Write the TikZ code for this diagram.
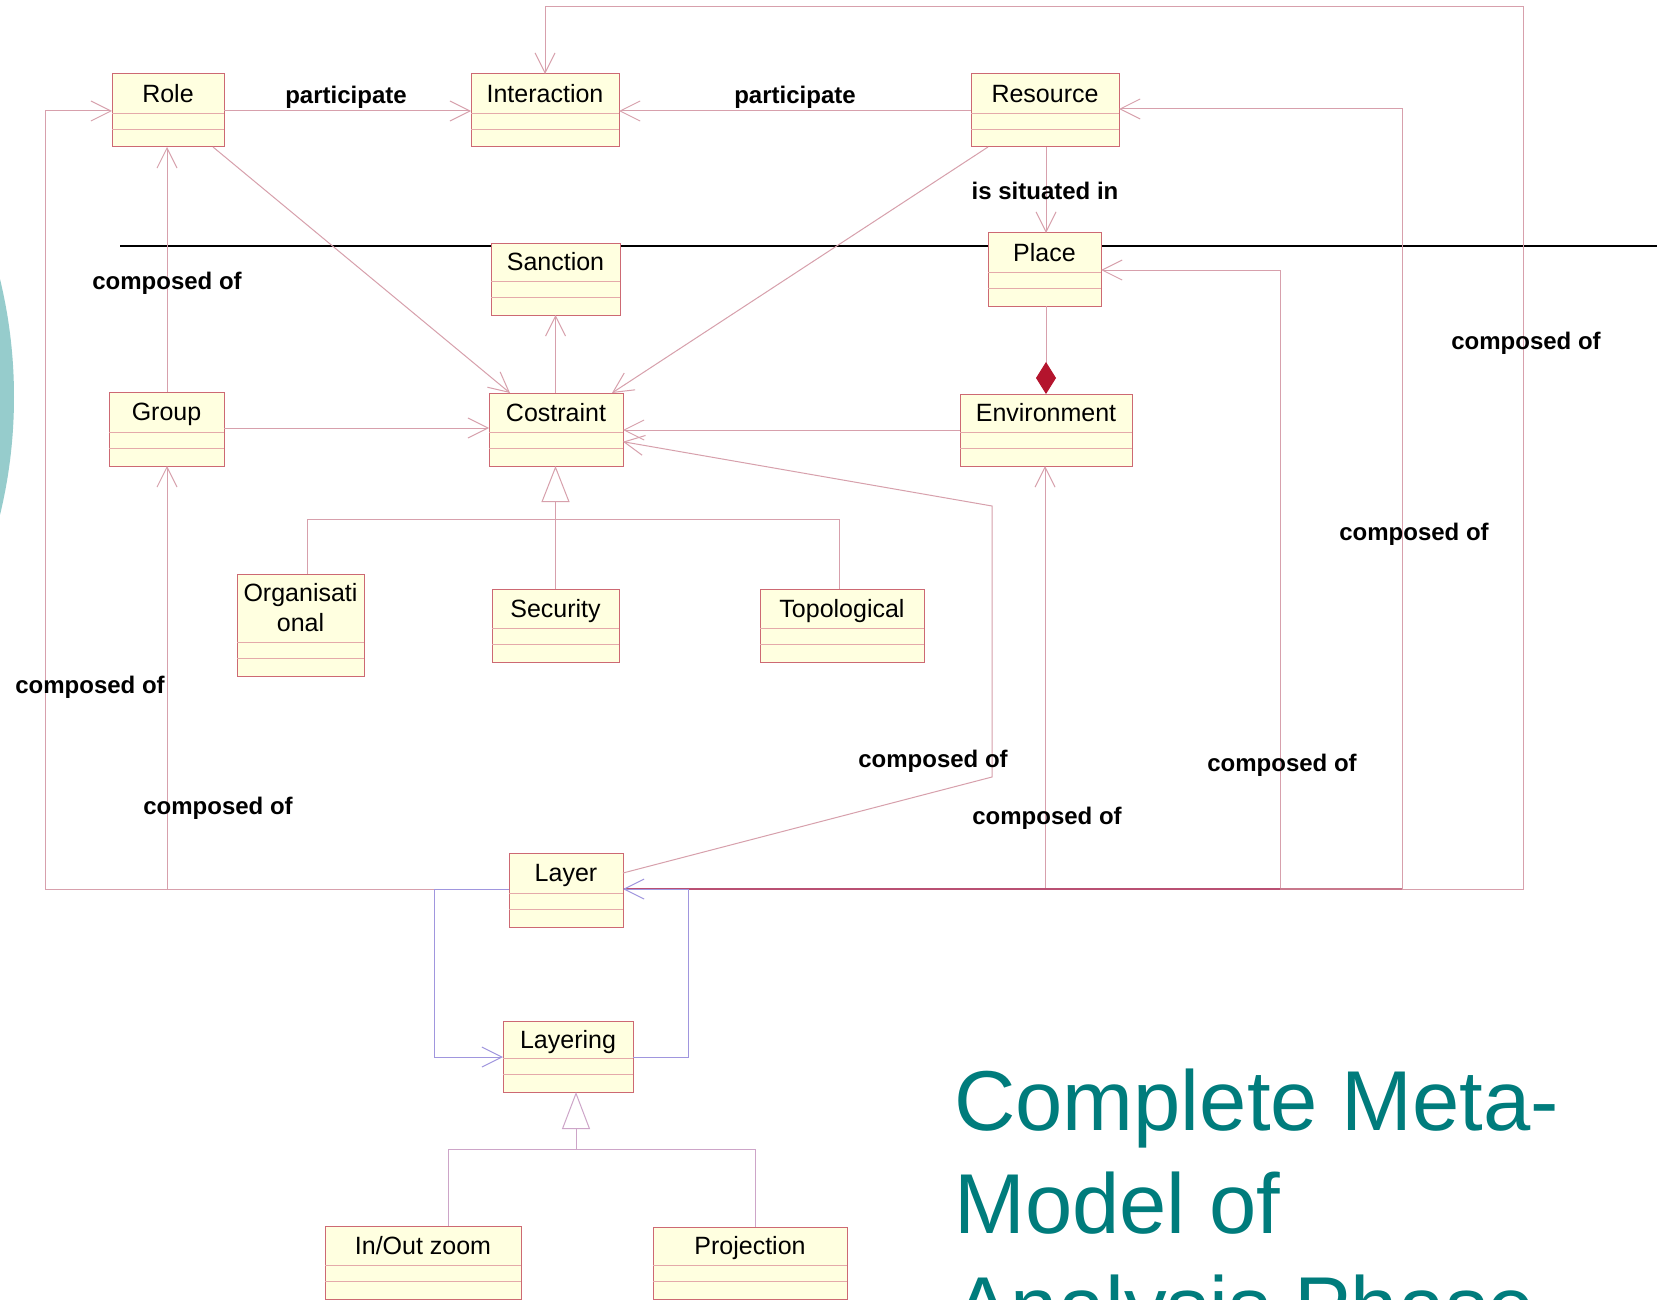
\documentclass[tikz,border=0pt]{standalone}
\usepackage{fontspec}
\setmainfont{Liberation Sans}
\usetikzlibrary{arrows.meta,calc}
\definecolor{boxfill}{RGB}{255,255,224}
\definecolor{boxline}{RGB}{205,105,115}
\definecolor{compcol}{RGB}{228,170,170}
\definecolor{assoccol}{RGB}{215,160,172}
\definecolor{buscol}{RGB}{185,80,115}
\definecolor{busmid}{RGB}{200,120,140}
\definecolor{loopcol}{RGB}{160,150,222}
\definecolor{gencol}{RGB}{205,165,200}
\definecolor{diamcol}{RGB}{180,20,45}
\definecolor{titlecol}{RGB}{0,124,124}
\definecolor{circcol}{RGB}{150,204,204}
\newcommand{\umlclass}[6]{%
  \node[classbox, minimum width=#4pt, minimum height=#5pt] (#1) at (#2,#3) {};
  \draw[compline] ([yshift=34pt]#1.south west) -- ([yshift=34pt]#1.south east);
  \draw[compline] ([yshift=18pt]#1.south west) -- ([yshift=18pt]#1.south east);
  \node[classname] (#1-name) at ($(#1.north)!0.5!([yshift=34pt]#1.south) + (0,8.7)$) {#6};
}
\begin{document}
\begin{tikzpicture}[x=1pt,y=-1pt,
  classbox/.style={rectangle, draw=boxline, fill=boxfill, line width=1pt, anchor=north west, inner sep=0pt, outer sep=0pt},
  compline/.style={draw=compcol, line width=0.9pt},
  classname/.style={font=\fontsize{25}{30}\selectfont, text=black, inner sep=0pt, anchor=base},
  assoc/.style={draw=assoccol, line width=1pt, -{Straight Barb[length=20pt,width=20pt]}},
  plainline/.style={draw=assoccol, line width=1pt},
  loopline/.style={draw=loopcol, line width=1pt},
  genline/.style={draw=gencol, line width=1pt},
  blob/.style={font=\fontsize{24}{24}\selectfont\bfseries, text=black, inner sep=0pt},
  titletext/.style={font=\fontsize{85}{103}\selectfont, text=titlecol, inner sep=0pt, anchor=base west}
]
\useasboundingbox (0,0) rectangle (1657,1300);
\clip (0,0) rectangle (1657,1300);
\fill[white] (0,0) rectangle (1657,1300);
\fill[circcol] (-486,397) circle (500pt);
\draw[black, line width=2.2pt] (120,246) coordinate (sepL) -- (1657,246) coordinate (sepR);

% classes
\umlclass{role}{112}{74}{112}{73}{Role}
\umlclass{interaction}{471}{74}{148}{73}{Interaction}
\umlclass{resource}{971}{74}{148}{73}{Resource}
\umlclass{sanction}{491}{243}{129}{72}{Sanction}
\umlclass{place}{988}{233}{113}{73}{Place}
\umlclass{group}{109}{392}{115}{74}{Group}
\umlclass{costraint}{489}{393}{134}{73}{Costraint}
\umlclass{environment}{960}{394}{172}{72}{Environment}
\umlclass{organisational}{237}{574}{127}{102}{}
\node[classname, align=center, anchor=center] (organisational-text) at (300.5,608) {Organisati\\onal};
\umlclass{security}{492}{589}{127}{73}{Security}
\umlclass{topological}{760}{589}{164}{73}{Topological}
\umlclass{layer}{509}{853}{114}{74}{Layer}
\umlclass{layering}{503}{1021}{130}{71}{Layering}
\umlclass{inout}{325}{1226}{196}{73}{In/Out zoom}
\umlclass{projection}{653}{1227}{194}{72}{Projection}

% associations among classes
\draw[assoc] (role.east |- 0,111) -- (interaction.west |- 0,111);
\draw[assoc] (resource.west |- 0,111) -- (interaction.east |- 0,111);
\draw[assoc] (group.north -| 167,0) -- (role.south -| 167,0);
\draw[assoc] (role.south -| 213,0) -- (costraint.north -| 510,0);
\draw[assoc] (resource.south -| 988,0) -- (costraint.north -| 612,0);
\draw[assoc] (costraint.north -| 555.5,0) -- (sanction.south -| 555.5,0);
\draw[assoc] (group.east |- 0,428) -- (costraint.west |- 0,428);
\draw[assoc] (environment.west |- 0,430) -- (costraint.east |- 0,430);
\draw[assoc] (resource.south -| 1046,0) -- (place.north -| 1046,0);
\draw[plainline, -{Diamond[length=32pt,width=20pt,fill=diamcol,color=diamcol]}] (place.south -| 1046,0) -- (environment.north -| 1046,0);

% generalisation to Costraint
\draw[plainline, -{Triangle[length=36pt,width=28pt,fill=white]}] (security.north -| 555.5,0) -- (costraint.south -| 555.5,0);
\draw[plainline] (organisational.north -| 307,0) -- (307,519) -- (839.5,519) -- (topological.north -| 839.5,0);

% generalisation to Layering
\draw[genline] (inout.north -| 448,0) -- (448,1149) -- (755.5,1149) -- (projection.north -| 755.5,0);
\draw[genline, -{Triangle[length=37pt,width=28pt,fill=white]}] (576,1149) -- (layering.south -| 576,0);

% Layer associations
\draw[assoc] (layer.west |- 0,889) -- (167,889) -- (group.south -| 167,0);
\draw[assoc] (layer.west |- 0,889) -- (45,889) -- (45,111) -- (role.west |- 0,111);
\draw[assoc] (layer.east |- 0,889) -- (1523,889) -- (1523,7) -- (545,7) -- (interaction.north -| 545,0);
\draw[assoc] (layer.east |- 0,889) -- (1402,889) -- (1402,109) -- (resource.east |- 0,109);
\draw[assoc] (layer.east |- 0,889) -- (1280,889) -- (1280,270) -- (place.east |- 0,270);
\draw[assoc] (layer.east |- 0,889) -- (1045,889) -- (environment.south -| 1045,0);
\draw[assoc] (layer.east |- 0,873) -- (992,777) -- (992,506) -- (costraint.east |- 0,441.7);
\draw[draw=busmid, line width=1.1pt] (1280,889) -- (1402,889);
\draw[draw=buscol, line width=1.2pt] (layer.east |- 0,889) -- (1280,889);

% Layer <-> Layering
\draw[loopline, -{Straight Barb[length=20pt,width=20pt]}] (layer.west |- 0,889) -- (434.6,889) -- (434.6,1057) -- (layering.west |- 0,1057);
\draw[loopline, -{Straight Barb[length=20pt,width=20pt]}] (layering.east |- 0,1057) -- (688,1057) -- (688,889) -- (layer.east |- 0,889);

% labels
\node[blob] (lbl-part1) at (346,97) {participate};
\node[blob] (lbl-part2) at (795,97) {participate};
\node[blob] (lbl-situated) at (1045,191) {is situated in};
\node[blob] (lbl-comp1) at (167,283) {composed of};
\node[blob] (lbl-comp2) at (1526,343) {composed of};
\node[blob] (lbl-comp3) at (1414,534) {composed of};
\node[blob] (lbl-comp4) at (90,687) {composed of};
\node[blob] (lbl-comp5) at (218,808) {composed of};
\node[blob] (lbl-comp6) at (933,761) {composed of};
\node[blob] (lbl-comp7) at (1282,765) {composed of};
\node[blob] (lbl-comp8) at (1047,818) {composed of};

% title
\node[titletext] (title1) at (954,1130) {Complete Meta-};
\node[titletext] (title2) at (954,1233) {Model of};
\node[titletext] (title3) at (954,1336) {Analysis Phase};
\end{tikzpicture}
\end{document}
